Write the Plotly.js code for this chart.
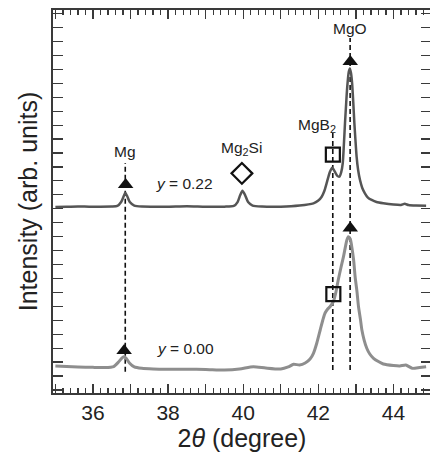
<!DOCTYPE html>
<html><head><meta charset="utf-8">
<script src="https://cdn.plot.ly/plotly-3.0.1.min.js"></script>
<style>html,body{margin:0;padding:0;overflow:hidden;background:#fff}#chart{width:432px;height:455px}</style>
</head><body><div id="chart"></div>
<script>
// 2θ (degree) and intensity (arb. units) for the two samples
var thetaTop = [35.0,35.3,35.6,35.9,36.2,36.5,36.65,36.75,36.82,36.86,36.91,36.98,37.1,37.3,37.6,38.0,38.5,39.0,39.5,39.75,39.85,39.92,39.98,40.05,40.13,40.25,40.5,41.0,41.5,41.87,42.0,42.09,42.16,42.22,42.31,42.37,42.44,42.5,42.56,42.61,42.65,42.68,42.71,42.74,42.77,42.81,42.84,42.87,42.9,42.93,42.96,42.99,43.02,43.06,43.11,43.17,43.24,43.32,43.42,43.55,43.73,44.0,44.2,44.3,44.4,44.6,44.87];
var intTop = [12.12,12.15,12.17,12.15,12.15,12.16,12.20,12.48,12.91,13.15,12.91,12.48,12.23,12.16,12.15,12.15,12.18,12.15,12.15,12.20,12.48,12.98,13.29,12.98,12.48,12.23,12.16,12.15,12.23,12.39,12.59,12.86,13.27,13.82,14.66,14.94,14.66,14.38,14.30,14.63,15.26,16.57,18.13,19.51,20.75,21.81,22.07,21.74,21.00,19.66,18.13,16.86,15.73,14.78,14.06,13.49,13.11,12.80,12.63,12.48,12.39,12.30,12.27,12.35,12.27,12.23,12.22];
var thetaBottom = [35.0,35.3,35.6,36.0,36.3,36.55,36.68,36.77,36.82,36.88,36.97,37.1,37.3,37.6,38.0,38.5,39.0,39.5,39.9,40.27,40.6,41.0,41.2,41.34,41.5,41.65,41.78,41.87,41.96,42.05,42.12,42.18,42.25,42.31,42.4,42.47,42.53,42.6,42.67,42.76,42.8,42.85,42.89,42.94,42.98,43.03,43.07,43.12,43.16,43.22,43.29,43.37,43.47,43.6,43.73,44.0,44.17,44.33,44.5,44.7,44.87];
var intBottom = [0.72,0.68,0.65,0.62,0.61,0.68,1.00,1.29,1.38,1.29,0.93,0.65,0.55,0.50,0.48,0.48,0.47,0.43,0.50,0.67,0.57,0.50,0.65,0.84,0.79,0.93,1.22,1.63,2.37,3.30,4.02,4.52,4.81,4.97,5.33,6.03,6.89,7.75,8.56,9.76,9.99,9.83,9.28,8.32,7.12,6.03,4.97,4.09,3.30,2.58,1.99,1.58,1.27,1.04,0.86,0.75,0.72,0.79,0.55,0.61,0.67];

// phase markers
var triX = [36.87, 42.85, 36.83, 42.85];
var triY = [13.73, 22.55, 1.82, 10.61];
var sqX = [42.387, 42.40];
var sqY = [15.88, 5.88];
var diaX = [39.965];
var diaY = [14.54];

// dashed reference lines: position, top, bottom
var refX = [36.86, 42.385, 42.847];
var refTop = [15.28, 17.53, 24.25];
var refBottom = [0.31, 0.43, 0.43];

// labels
var labelText = ['Mg', 'Mg<sub>2</sub>Si', 'MgB<sub>2</sub>', 'MgO', '<i>y</i> = 0.22', '<i>y</i> = 0.00'];
var labelX = [36.86, 39.95, 41.97, 42.847, 38.43, 38.46];
var labelY = [16.09, 16.33, 18.0, 24.94, 13.82, 1.99];

// axis ticks
var xLabelTicks = [36, 38, 40, 42, 44];
var xOddTicks = [35, 37, 39, 41, 43, 45];
var yMajorTicks = [0, 5, 10, 15, 20, 25];

var FONT = '"Liberation Sans", Arial, Helvetica, sans-serif';
var AX = '#3a3a3a';

var traces = [];
for (var i = 0; i < refX.length; i++) {
  traces.push({x: [refX[i], refX[i]], y: [refBottom[i], refTop[i]], mode: 'lines',
    line: {color: '#111', width: 1.6, dash: '5px,3px'}, hoverinfo: 'skip', showlegend: false});
}
traces.push({x: thetaBottom, y: intBottom, mode: 'lines', line: {color: '#8e8e8e', width: 3, shape: 'spline', smoothing: 0.6}, showlegend: false});
traces.push({x: thetaTop, y: intTop, mode: 'lines', line: {color: '#555555', width: 2.5, shape: 'spline', smoothing: 0.6}, showlegend: false});
traces.push({x: triX, y: triY, mode: 'markers', marker: {symbol: 'triangle-up', size: 13.5, color: '#111', line: {width: 0}}, showlegend: false});
traces.push({x: sqX, y: sqY, mode: 'markers', marker: {symbol: 'square-open', size: 14, color: '#111', line: {width: 2.2, color: '#111'}}, showlegend: false});
traces.push({x: diaX, y: diaY, mode: 'markers', marker: {symbol: 'diamond-open', size: 16, color: '#111', line: {width: 2.2, color: '#111'}}, showlegend: false});
// invisible carrier trace for the overlay axis that draws the unlabelled odd-degree major ticks
traces.push({x: [thetaTop[0]], y: [intTop[0]], xaxis: 'x2', yaxis: 'y', mode: 'markers', marker: {opacity: 0}, hoverinfo: 'skip', showlegend: false});

var annotations = [];
for (var j = 0; j < labelText.length; j++) {
  annotations.push({x: labelX[j], y: labelY[j], xref: 'x', yref: 'y', text: labelText[j], showarrow: false,
    xanchor: 'center', yanchor: 'middle', font: {family: FONT, size: 15.5, color: '#222'}});
}

var layout = {
  width: 432, height: 455,
  margin: {l: 53, r: 1, t: 10, b: 62},
  paper_bgcolor: '#fff', plot_bgcolor: '#fff',
  showlegend: false,
  xaxis: {
    range: [34.936, 45], showgrid: false, zeroline: false,
    showline: true, linecolor: AX, linewidth: 2, mirror: 'allticks',
    ticks: 'inside', ticklen: 9, tickwidth: 1.4, tickcolor: AX,
    tickmode: 'array', tickvals: xLabelTicks,
    tickfont: {family: FONT, size: 21, color: '#222'},
    minor: {dtick: 0.2, tick0: 35, ticks: 'inside', ticklen: 5, tickwidth: 1.2, tickcolor: AX, showgrid: false},
    title: {text: '2<i>θ</i> (degree)', font: {family: FONT, size: 25, color: '#222'}, standoff: 6}
  },
  xaxis2: {
    overlaying: 'x', anchor: 'y', side: 'bottom', matches: 'x',
    range: [34.936, 45], showgrid: false, zeroline: false, showline: false,
    mirror: 'ticks', ticks: 'inside', ticklen: 9, tickwidth: 1.4, tickcolor: AX,
    tickmode: 'array', tickvals: xOddTicks, showticklabels: false
  },
  yaxis: {
    range: [-1.22, 26.26], showgrid: false, zeroline: false,
    showline: true, linecolor: AX, linewidth: 2, mirror: 'allticks',
    ticks: 'inside', ticklen: 10, tickwidth: 1.4, tickcolor: AX,
    tickmode: 'array', tickvals: yMajorTicks, showticklabels: false,
    minor: {dtick: 1, tick0: 0, ticks: 'inside', ticklen: 5, tickwidth: 1.2, tickcolor: AX, showgrid: false},
    title: {text: 'Intensity (arb. units)', font: {family: FONT, size: 25, color: '#222'}, standoff: 6}
  },
  annotations: annotations
};

Plotly.newPlot('chart', traces, layout, {displayModeBar: false, staticPlot: true});
</script>
</body></html>
